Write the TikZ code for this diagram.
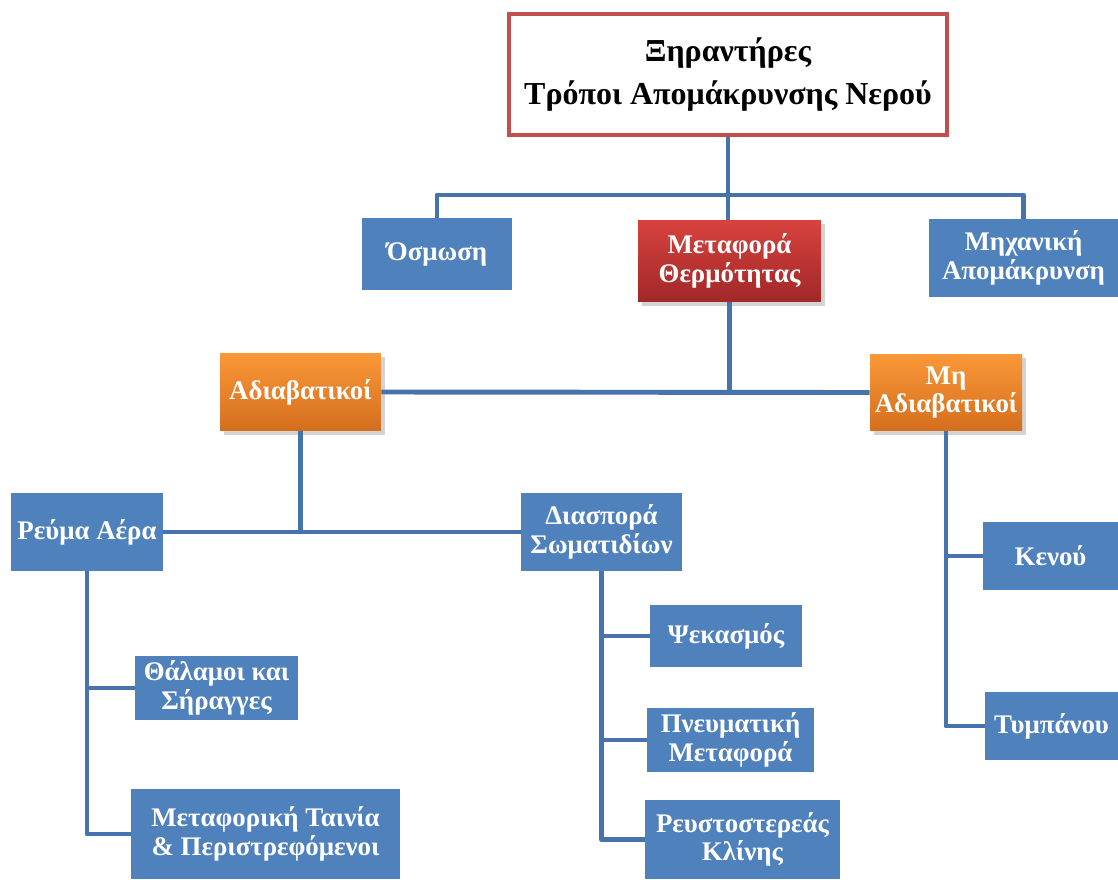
\documentclass[tikz,border=0pt]{standalone}
\usepackage{fontspec}
\setmainfont{Liberation Serif}
\usetikzlibrary{shadows}
\definecolor{boxblue}{RGB}{79,129,189}
\definecolor{linkblue}{RGB}{70,115,172}
\definecolor{framered}{RGB}{192,80,77}
\definecolor{heattop}{RGB}{216,66,62}
\definecolor{heatbot}{RGB}{160,40,40}
\definecolor{adtop}{RGB}{250,152,56}
\definecolor{adbot}{RGB}{212,110,30}
\begin{document}
\begin{tikzpicture}[x=0.02cm,y=-0.02cm,
    box/.style={rectangle,fill=boxblue,text=white,font=\fontsize{15.3}{16.2}\selectfont\bfseries,align=center,inner sep=0pt},
    redbox/.style={box,top color=heattop,bottom color=heatbot,drop shadow={opacity=0.35,shadow xshift=2pt,shadow yshift=-2pt}},
    orangebox/.style={box,top color=adtop,bottom color=adbot,drop shadow={opacity=0.35,shadow xshift=2pt,shadow yshift=-2pt}},
    link/.style={draw=linkblue,line width=2.8pt,line join=round}]
    \useasboundingbox (0,0) rectangle (1118,879);

    \node [draw=framered,line width=2.3pt,fill=white,minimum width=8.76cm,minimum height=2.42cm,align=center,font=\fontsize{18.2}{24}\selectfont\bfseries] (top) at (728,74.5) {Ξηραντήρες\\Τρόποι Απομάκρυνσης Νερού};

    \node [box,minimum width=3cm,minimum height=1.44cm] (osm) at (437,254) {Όσμωση};
    \node [redbox,minimum width=3.66cm,minimum height=1.64cm] (heat) at (729.5,261) {Μεταφορά\\Θερμότητας};
    \node [box,minimum width=3.78cm,minimum height=1.56cm] (mech) at (1023.5,258) {Μηχανική\\Απομάκρυνση};

    \node [orangebox,minimum width=3.22cm,minimum height=1.56cm] (adiab) at (300.5,392) {Αδιαβατικοί};
    \node [orangebox,minimum width=3.04cm,minimum height=1.54cm] (nonadiab) at (946,392.5) {Μη\\Αδιαβατικοί};

    \node [box,minimum width=3.04cm,minimum height=1.56cm] (air) at (87,532) {Ρεύμα Αέρα};
    \node [box,minimum width=3.22cm,minimum height=1.56cm] (disp) at (601.5,532) {Διασπορά\\Σωματιδίων};

    \node [box,minimum width=3.26cm,minimum height=1.28cm] (cham) at (216.5,688) {Θάλαμοι και\\Σήραγγες};
    \node [box,minimum width=5.38cm,minimum height=1.8cm] (belt) at (265.5,834) {Μεταφορική Ταινία\\\& Περιστρεφόμενοι};

    \node [box,minimum width=3.04cm,minimum height=1.24cm] (spray) at (726,636) {Ψεκασμός};
    \node [box,minimum width=3.34cm,minimum height=1.28cm] (pneu) at (730.5,740) {Πνευματική\\Μεταφορά};
    \node [box,minimum width=3.9cm,minimum height=1.58cm] (fluid) at (742.5,839.5) {Ρευστοστερεάς\\Κλίνης};

    \node [box,minimum width=2.7cm,minimum height=1.36cm] (vac) at (1050.5,556) {Κενού};
    \node [box,minimum width=2.66cm,minimum height=1.36cm] (drum) at (1051.5,726) {Τυμπάνου};

    \coordinate (j1) at (729,195);
    \draw [link] (top.south) -- (top.south |- heat.north);
    \draw [link] (osm.north) |- (j1) -| (mech.north);

    \draw [link] (adiab.east) -- (nonadiab.west);
    \draw [link] (heat.south) -- (heat.south |- adiab.east);

    \draw [link] (air.east) -- (disp.west);
    \draw [link] (adiab.south) -- (adiab.south |- air.east);

    \draw [link] (air.south) |- (cham.west);
    \draw [link] (air.south) |- (belt.west);

    \draw [link] (disp.south) |- (spray.west);
    \draw [link] (disp.south) |- (pneu.west);
    \draw [link] (disp.south) |- (fluid.west);

    \draw [link] (nonadiab.south) |- (vac.west);
    \draw [link] (nonadiab.south) |- (drum.west);
\end{tikzpicture}
\end{document}
